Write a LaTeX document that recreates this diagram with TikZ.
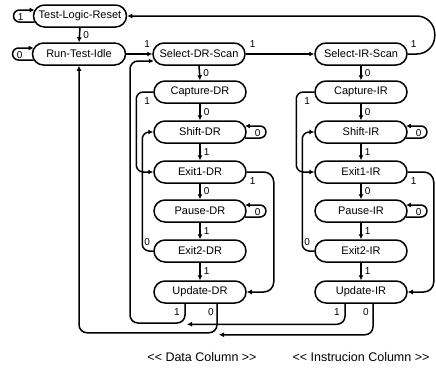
\documentclass[tikz,border=0pt]{standalone}
\usepackage{fontspec}
\setmainfont{Liberation Sans}
\usetikzlibrary{shapes.misc,arrows.meta,calc}
\begin{document}
\begin{tikzpicture}[x=1pt,y=-1pt,
  st/.style={rounded rectangle, draw, line width=1.5pt, minimum width=92pt,
    minimum height=22pt, inner sep=0pt, font=\fontsize{11}{12}\selectfont},
  ln/.style={line width=1.5pt, -{Latex[length=5pt,width=5pt]}, rounded corners=8pt},
  lb/.style={font=\fontsize{10}{11}\selectfont, inner sep=0pt},
  colcap/.style={font=\fontsize{12.5}{14}\selectfont, inner sep=0pt}]
\useasboundingbox (0,0) rectangle (436,367);
% states
\node[st, minimum width=93pt] (tlr) at (80,16) {Test-Logic-Reset};
\node[st, minimum width=93pt] (rti) at (79,54) {Run-Test-Idle};
\node[st] (sdr) at (199,54) {Select-DR-Scan};
\node[st] (sir) at (361,54) {Select-IR-Scan};
\node[st] (cdr) at (200,92) {Capture-DR};
\node[st] (shdr) at (200,132) {Shift-DR};
\node[st] (e1dr) at (200,172) {Exit1-DR};
\node[st] (pdr) at (200,211) {Pause-DR};
\node[st] (e2dr) at (200,251) {Exit2-DR};
\node[st] (udr) at (200,292) {Update-DR};
\node[st] (cir) at (361,92) {Capture-IR};
\node[st] (shir) at (361,132) {Shift-IR};
\node[st] (e1ir) at (361,172) {Exit1-IR};
\node[st] (pir) at (361,211) {Pause-IR};
\node[st] (e2ir) at (361,251) {Exit2-IR};
\node[st] (uir) at (361,292) {Update-IR};
% column captions
\node[colcap] (dcap) at (202,357) {<{}< Data Column >{}>};
\node[colcap] (icap) at (361,357) {<{}< Instrucion Column >{}>};
% self loops
\draw[ln, rounded corners=6pt] ($(tlr.west)+(1.8,6)$) -- ++(-21,0) -- ++(0,-12) -- ($(tlr.west)+(1.8,-6)$);
\node[lb] at ($(tlr.west)+(-12,1)$) {1};
\draw[ln, rounded corners=6pt] ($(rti.west)+(1.8,6)$) -- ++(-21,0) -- ++(0,-12) -- ($(rti.west)+(1.8,-6)$);
\node[lb] at ($(rti.west)+(-12,1)$) {0};
\foreach \n in {shdr,pdr,shir,pir}{
  \draw[ln, rounded corners=6pt] ($(\n.east)+(-1.8,6)$) -- ++(21,0) -- ++(0,-12) -- ($(\n.east)+(-1.8,-6)$);
  \node[lb] at ($(\n.east)+(11,1)$) {0};
}
% straight transitions
\draw[ln] (tlr.south) -- (rti.north) node[lb, midway, right=3pt] {0};
\draw[ln] (rti.east) -- (sdr.west);
\node[lb] at ($(sdr.west)+(-5,-10)$) {1};
\draw[ln] (sdr.east) -- (sir.west);
\node[lb] at ($(sdr.east)+(7,-10)$) {1};
\draw[ln] (sdr.south) -- (cdr.north) node[lb, midway, right=3pt] {0};
\draw[ln] (cdr.south) -- (shdr.north) node[lb, midway, right=3pt] {0};
\draw[ln] (shdr.south) -- (e1dr.north) node[lb, midway, right=3pt] {1};
\draw[ln] (e1dr.south) -- (pdr.north) node[lb, midway, right=3pt] {0};
\draw[ln] (pdr.south) -- (e2dr.north) node[lb, midway, right=3pt] {1};
\draw[ln] (e2dr.south) -- (udr.north) node[lb, midway, right=3pt] {1};
\draw[ln] (sir.south) -- (cir.north) node[lb, midway, right=3pt] {0};
\draw[ln] (cir.south) -- (shir.north) node[lb, midway, right=3pt] {0};
\draw[ln] (shir.south) -- (e1ir.north) node[lb, midway, right=3pt] {1};
\draw[ln] (e1ir.south) -- (pir.north) node[lb, midway, right=3pt] {0};
\draw[ln] (pir.south) -- (e2ir.north) node[lb, midway, right=3pt] {1};
\draw[ln] (e2ir.south) -- (uir.north) node[lb, midway, right=3pt] {1};
% Select-IR-Scan back to Test-Logic-Reset
\draw[ln, rounded corners=18pt] (sir.east) -- ++(27,0) |- (tlr.east);
\node[lb] at ($(sir.east)+(6,-10)$) {1};
% DR column side loops
\draw[ln, rounded corners=7pt] (cdr.west) -- ++(-17,0) |- (e1dr.west);
\node[lb] at ($(cdr.west)+(-6,9)$) {1};
\draw[ln, rounded corners=7pt] (e2dr.west) -- ++(-11,0) |- (shdr.west);
\node[lb] at ($(e2dr.west)+(-6,-9)$) {0};
\draw[ln, rounded corners=10pt] (e1dr.east) -- ++(27,0) |- (udr.east);
\node[lb] at ($(e1dr.east)+(6,9)$) {1};
% IR column side loops
\draw[ln, rounded corners=7pt] (cir.west) -- ++(-18,0) |- (e1ir.west);
\node[lb] at ($(cir.west)+(-7,9)$) {1};
\draw[ln, rounded corners=7pt] (e2ir.west) -- ++(-12,0) |- (shir.west);
\node[lb] at ($(e2ir.west)+(-7,-9)$) {0};
\draw[ln, rounded corners=10pt] (e1ir.east) -- ++(26,0) |- (uir.east);
\node[lb] at ($(e1ir.east)+(6,9)$) {1};
% Update-DR exits
\coordinate (drone) at ($(udr.south)+(-15,20)$);
\coordinate (drzero) at ($(udr.south)+(17,29)$);
\draw[ln] ($(udr.south)+(-15,0)$) |- (130,323) |- ($(sdr.west)+(1.5,7)$);
\node[lb] at ($(udr.south)+(-23,8)$) {1};
\draw[ln] ($(udr.south)+(17,0)$) |- ($(rti.south)+(0,267)$) -- (rti.south);
\node[lb] at ($(udr.south)+(11,8)$) {0};
% Update-IR exits
\draw[ln] ($(uir.south)+(-16,0)$) |- ($(drone)+(2,0.5)$);
\node[lb] at ($(uir.south)+(-24,8)$) {1};
\draw[ln] ($(uir.south)+(12,0)$) |- ($(drzero)+(2,2)$);
\node[lb] at ($(uir.south)+(5,8)$) {0};
\end{tikzpicture}
\end{document}
